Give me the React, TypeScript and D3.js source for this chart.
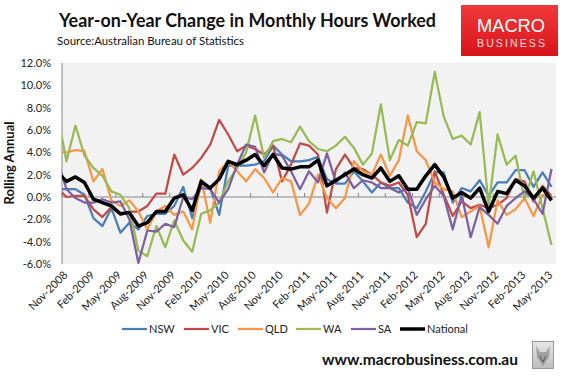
import React from "react";
import * as d3 from "d3";

// Categories: first entry (Oct-2008) lies just left of the plot and is clipped
const categories = [
  "Oct-2008","Nov-2008","Dec-2008",
  "Jan-2009","Feb-2009","Mar-2009","Apr-2009","May-2009","Jun-2009","Jul-2009","Aug-2009","Sep-2009","Oct-2009","Nov-2009","Dec-2009",
  "Jan-2010","Feb-2010","Mar-2010","Apr-2010","May-2010","Jun-2010","Jul-2010","Aug-2010","Sep-2010","Oct-2010","Nov-2010","Dec-2010",
  "Jan-2011","Feb-2011","Mar-2011","Apr-2011","May-2011","Jun-2011","Jul-2011","Aug-2011","Sep-2011","Oct-2011","Nov-2011","Dec-2011",
  "Jan-2012","Feb-2012","Mar-2012","Apr-2012","May-2012","Jun-2012","Jul-2012","Aug-2012","Sep-2012","Oct-2012","Nov-2012","Dec-2012",
  "Jan-2013","Feb-2013","Mar-2013","Apr-2013","May-2013",
];

const tickLabels = [
  "Nov-2008","Feb-2009","May-2009","Aug-2009","Nov-2009","Feb-2010","May-2010","Aug-2010","Nov-2010",
  "Feb-2011","May-2011","Aug-2011","Nov-2011","Feb-2012","May-2012","Aug-2012","Nov-2012","Feb-2013","May-2013",
];

const yTicks = [12, 10, 8, 6, 4, 2, 0, -2, -4, -6];

const nsw = [0.7,
  0.7,0.7,0.2,-1.9,-2.6,-1.0,-3.2,-2.3,-2.9,-1.7,-1.5,-1.5,-0.8,0.9,-1.9,1.1,0.8,-1.6,2.8,2.8,
  2.8,2.9,3.2,4.6,3.8,3.2,3.2,3.3,3.6,1.6,1.2,1.2,2.3,1.4,0.4,1.3,0.8,0.8,-0.5,-1.0,
  0.5,2.2,2.2,-0.5,0.8,0.5,1.5,0.1,1.3,1.3,2.4,2.4,0.9,2.2,0.9];

const vic = [0.8,
  0.0,0.1,0.1,-1.1,-1.8,-0.9,-1.6,-1.3,-1.3,-0.8,0.3,0.3,3.8,2.0,2.6,3.5,4.7,6.9,5.6,4.1,
  4.6,4.3,3.8,4.6,1.4,2.9,4.8,4.6,3.8,-1.4,2.5,3.8,2.6,2.5,2.0,1.3,1.0,1.3,0.2,-3.6,
  -2.4,2.3,0.2,-1.7,-0.4,-1.0,-0.7,-1.0,-0.7,-0.1,1.6,1.4,-0.4,1.0,0.1];

const qld = [4.0,
  4.0,4.2,4.1,1.4,2.5,-0.3,-0.8,-0.3,-1.3,-2.9,-1.3,-0.8,-1.6,-1.3,-2.9,1.6,-2.3,2.3,3.2,2.3,
  1.4,2.5,1.7,0.4,1.7,1.4,-1.6,-0.6,2.0,-0.1,-1.0,-0.1,3.2,2.3,2.0,3.8,1.9,3.3,7.3,4.1,
  3.3,1.3,0.7,0.5,-1.8,-1.3,-0.8,-4.5,-0.3,-1.6,-1.1,-0.1,-1.7,0.2,0.1];

const wa = [7.4,
  3.2,6.4,3.7,2.6,1.9,0.5,0.2,-1.0,-4.8,-5.3,-2.6,-4.5,-2.1,-3.9,-4.9,-1.5,-1.2,-0.5,1.4,2.6,
  4.0,7.3,3.5,5.0,5.2,4.9,6.3,5.0,4.3,4.1,4.6,5.4,4.4,2.9,3.9,8.3,3.3,5.1,4.6,6.7,
  6.6,11.2,7.2,5.2,5.5,4.7,7.6,-0.8,5.6,2.9,3.7,-0.2,2.3,-1.0,-4.3];

const sa = [3.3,
  0.7,-0.1,-0.5,-0.5,-0.2,-0.5,-0.4,-2.0,-5.9,-3.0,-3.1,-2.4,-2.7,0.0,-0.2,0.8,0.7,-0.5,0.7,2.9,
  4.7,4.5,2.2,3.9,3.7,2.3,0.7,2.3,1.3,3.9,1.3,2.2,0.8,1.5,1.3,0.8,0.8,0.4,0.8,-1.6,
  -0.2,1.0,0.1,-2.9,0.2,-3.6,-0.9,-1.6,-2.4,-0.8,-0.1,0.5,-0.2,-1.5,2.5];

const national = [2.2,
  1.4,1.8,1.3,-0.2,-0.5,-0.8,-1.5,-1.4,-2.6,-2.3,-1.3,-1.3,-0.1,0.2,-1.2,1.4,0.8,1.6,3.2,2.9,
  3.3,3.8,2.8,3.8,2.6,2.5,2.7,2.7,3.3,1.0,1.5,2.0,2.5,2.0,1.7,2.6,1.4,1.9,0.7,0.7,
  1.9,2.9,1.8,-0.1,0.4,-0.1,0.8,-1.3,0.5,0.3,1.5,1.0,-0.1,0.8,-0.3];

const seriesNames = ["NSW", "VIC", "QLD", "WA", "SA", "National"];
const seriesValues = [nsw, vic, qld, wa, sa, national];
const seriesColors = ["#4a7ebb", "#be4b48", "#f79646", "#98b954", "#7d60a0", "#000000"];
const seriesWidths = [2.25, 2.25, 2.25, 2.25, 2.25, 3.5];

const W = 569, H = 377;
const plot = { left: 62, right: 556, top: 63, bottom: 264 };

export default function App() {
  const x = d3.scaleLinear().domain([0.5, categories.length - 0.5]).range([plot.left, plot.right]);
  const y = d3.scaleLinear().domain([-6, 12]).range([plot.bottom, plot.top]);
  const line = d3.line<number>().x((_, i) => x(i)).y((d) => y(d));
  const font = "Lato, 'Open Sans', sans-serif";

  const legendX = [122, 184, 238, 296, 351, 400];

  return (
    <svg width={W} height={H} style={{ position: "absolute", left: 0, top: 0, background: "#fff" }} fontFamily={font}>
      <defs>
        <clipPath id="plotClip">
          <rect x={plot.left} y={plot.top} width={plot.right - plot.left} height={plot.bottom - plot.top} />
        </clipPath>
        <linearGradient id="logoGrad" x1="0" y1="0" x2="0" y2="1">
          <stop offset="0" stopColor="#f03a3a" />
          <stop offset="1" stopColor="#d8141c" />
        </linearGradient>
        <linearGradient id="wolfGrad" x1="0" y1="0" x2="0" y2="1">
          <stop offset="0" stopColor="#e6e6e6" />
          <stop offset="1" stopColor="#bdbdbd" />
        </linearGradient>
      </defs>

      {/* Title */}
      <text x={59} y={27} fontSize={18} fontWeight={700} fill="#111" textLength={377} lengthAdjust="spacingAndGlyphs">
        Year-on-Year Change in Monthly Hours Worked
      </text>
      <text x={57} y={45} fontSize={11.5} fill="#111" textLength={187} lengthAdjust="spacingAndGlyphs">
        Source:Australian Bureau of Statistics
      </text>

      {/* Logo */}
      <rect x={461} y={5} width={97} height={51} fill="url(#logoGrad)" />
      <text x={511} y={32} fontSize={18} fill="#fff" textAnchor="middle" fontFamily="'Liberation Sans', Arial, sans-serif" textLength={68} lengthAdjust="spacingAndGlyphs">
        MACRO
      </text>
      <text x={511} y={47} fontSize={10.5} fill="#f3dede" textAnchor="middle" fontFamily="'Liberation Sans', Arial, sans-serif" textLength={68} lengthAdjust="spacing">
        BUSINESS
      </text>

      {/* Plot background */}
      <rect x={plot.left} y={plot.top} width={plot.right - plot.left} height={plot.bottom - plot.top} fill="#f2f2f2" />

      {/* Y axis */}
      <line x1={plot.left} x2={plot.left} y1={plot.top} y2={plot.bottom} stroke="#868686" strokeWidth={1} />
      {yTicks.map((t) => (
        <text key={t} x={51} y={y(t)} dy="0.35em" fontSize={11} textAnchor="end" fill="#222">
          {t.toFixed(1) + "%"}
        </text>
      ))}
      <text transform={`translate(14,163) rotate(-90)`} textAnchor="middle" fontSize={13} fontWeight={700} fill="#111">
        Rolling Annual
      </text>

      {/* Zero axis with ticks */}
      <line x1={plot.left} x2={plot.right} y1={y(0)} y2={y(0)} stroke="#868686" strokeWidth={1} />
      {tickLabels.map((lab) => {
        const xi = x(categories.indexOf(lab) - 0.5);
        return <line key={"t" + lab} x1={xi} x2={xi} y1={y(0)} y2={y(0) - 4} stroke="#868686" strokeWidth={1} />;
      })}

      {/* Series */}
      <g clipPath="url(#plotClip)">
        {seriesValues.map((vals, si) => (
          <path key={seriesNames[si]} d={line(vals) || ""} fill="none" stroke={seriesColors[si]} strokeWidth={seriesWidths[si]} strokeLinejoin="round" />
        ))}
      </g>

      {/* X labels */}
      {tickLabels.map((lab) => {
        const xi = x(categories.indexOf(lab)) - 1;
        return (
          <text key={"l" + lab} transform={`translate(${xi},273) rotate(-45)`} dy="0.35em" fontSize={11} textAnchor="end" fill="#222">
            {lab}
          </text>
        );
      })}

      {/* Legend */}
      {seriesNames.map((n, i) => (
        <g key={"lg" + n}>
          <line x1={legendX[i]} x2={legendX[i] + 25} y1={329} y2={329} stroke={seriesColors[i]} strokeWidth={seriesWidths[i]} />
          <text x={legendX[i] + 27} y={329} dy="0.35em" fontSize={11} fill="#222">{n}</text>
        </g>
      ))}

      {/* Website */}
      <text x={322} y={365} fontSize={15} fontWeight={700} fill="#111" textLength={196} lengthAdjust="spacingAndGlyphs">
        www.macrobusiness.com.au
      </text>
      <rect x={532.5} y={341.5} width={21} height={27} fill="url(#wolfGrad)" stroke="#9a9a9a" strokeWidth={1} />
      <path d="M536,346 L540,352 L546,352 L550,346 L549,357 L543,366 L537,357 Z" fill="#8a8a8a" opacity={0.7} />
      <path d="M540,356 L543,362 L546,356" fill="none" stroke="#444" strokeWidth={0.8} />
    </svg>
  );
}
